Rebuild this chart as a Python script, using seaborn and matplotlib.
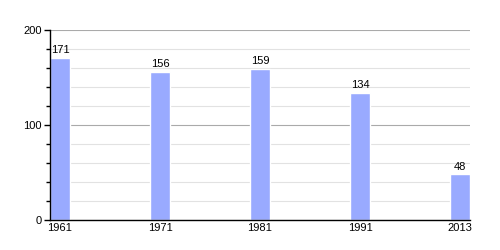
import matplotlib
matplotlib.use("Agg")
import matplotlib.pyplot as plt
import seaborn as sns
import pandas as pd
from matplotlib.ticker import MultipleLocator

years = ["1961", "1971", "1981", "1991", "2013"]
population = [171, 156, 159, 134, 48]

sns.set_style("white")
plt.rcParams['font.family'] = ['Liberation Sans', 'DejaVu Sans']
plt.rcParams['text.color'] = 'black'
plt.rcParams['xtick.color'] = 'black'
plt.rcParams['ytick.color'] = 'black'

df = pd.DataFrame({"year": years, "pop": population})

fig = plt.figure(figsize=(5, 2.5), dpi=100)
ax = fig.add_axes([0.1, 0.12, 0.84, 0.76])

sns.barplot(data=df, x="year", y="pop", color="#99aaff", saturation=1, width=0.2, ax=ax, zorder=3)

ax.set_xlim(-0.1, 4.1)
ax.set_ylim(0, 200)
ax.yaxis.set_major_locator(MultipleLocator(100))
ax.yaxis.set_minor_locator(MultipleLocator(20))
ax.grid(which="major", axis="y", color="#aaaaaa", linewidth=0.8, zorder=0)
ax.grid(which="minor", axis="y", color="#e2e2e2", linewidth=0.8, zorder=0)
ax.set_axisbelow(True)

for s in ["top", "right"]:
    ax.spines[s].set_visible(False)
for s in ["left", "bottom"]:
    ax.spines[s].set_color("black")
    ax.spines[s].set_linewidth(1)
    ax.spines[s].set_zorder(5)

ax.tick_params(axis="y", which="major", length=4, width=1, color="black", labelcolor="black", labelsize=8, pad=2, left=True)
ax.tick_params(axis="y", which="minor", length=3, width=1, color="black", left=True)
ax.tick_params(axis="x", length=0, labelsize=8, labelcolor="black", pad=2)
ax.set_xlabel("")
ax.set_ylabel("")

for container in ax.containers:
    ax.bar_label(container, labels=[str(v) for v in population], fontsize=8, color="black", padding=2)

fig.savefig("out.png", dpi=100)
